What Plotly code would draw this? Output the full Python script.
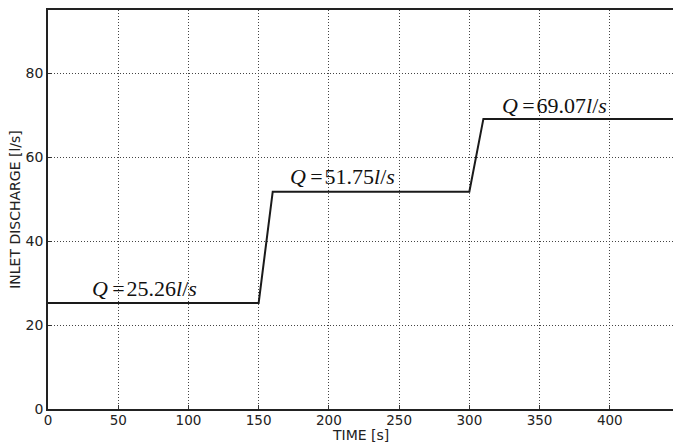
import plotly.graph_objects as go

# Inlet discharge hydrograph: three steady stages joined by short ramps
time_s = [0, 150, 160, 300, 310, 445]
discharge_lps = [25.26, 25.26, 51.75, 51.75, 69.07, 69.07]

# Stage labels (left edge time, vertical position, value)
label_time = [30, 171, 322]
label_level = [28.6, 55.4, 72.2]
label_value = [25.26, 51.75, 69.07]

x_ticks = [0, 50, 100, 150, 200, 250, 300, 350, 400]
y_ticks = [0, 20, 40, 60, 80]

SANS = "DejaVu Sans, sans-serif"

fig = go.Figure()
fig.add_trace(go.Scatter(
    x=time_s, y=discharge_lps, mode="lines",
    line=dict(color="#1a1a1a", width=2),
    showlegend=False, hoverinfo="skip",
))

for xt, yt, v in zip(label_time, label_level, label_value):
    fig.add_annotation(
        x=xt, y=yt, xref="x", yref="y",
        xanchor="left", yanchor="middle", showarrow=False,
        text=f"<i>Q</i>\u2009=\u200a{v:.2f}<i>l</i>/<i>s</i>",
        font=dict(family="Liberation Serif, DejaVu Serif, serif", size=22, color="#111"),
    )

# x-axis title placed just under the tick labels
fig.add_annotation(
    x=0.5, y=0, xref="paper", yref="paper", yshift=-35,
    xanchor="center", yanchor="bottom", showarrow=False, borderpad=0,
    text="TIME [s]", font=dict(family=SANS, size=14, color="#222"),
)

axis_common = dict(
    showline=True, linecolor="#222", linewidth=1.5,
    ticks="inside", ticklen=4, tickcolor="#333", tickwidth=1,
    showgrid=True, gridcolor="#444", gridwidth=1, griddash="1px,2px",
    zeroline=False,
)

fig.update_xaxes(range=[0, 445], tickvals=x_ticks, mirror=True,
                 ticklabelstandoff=-2,
                 tickfont=dict(family=SANS, size=13.5, color="#222"),
                 **axis_common)
fig.update_yaxes(
    range=[0, 95], tickvals=y_ticks, mirror=False,
    tickfont=dict(family=SANS, size=14, color="#222"),
    title=dict(text="INLET DISCHARGE [l/s]", standoff=2,
               font=dict(family=SANS, size=14, color="#222")),
    **axis_common,
)

fig.update_layout(
    width=673, height=444,
    margin=dict(l=48, r=0, t=10, b=35),
    paper_bgcolor="white", plot_bgcolor="white",
)

fig.write_html("out.html")
